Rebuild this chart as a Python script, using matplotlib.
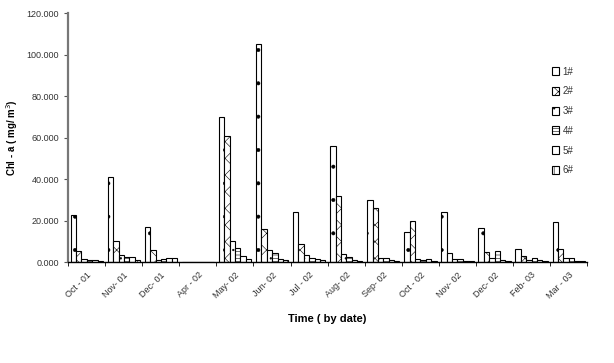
import numpy as np
import matplotlib
matplotlib.use('Agg')
import matplotlib.pyplot as plt

plt.rcParams['font.family'] = ['Liberation Sans', 'DejaVu Sans']
plt.rcParams['hatch.linewidth'] = 0.4

# sampling dates
months = ['Oct - 01', 'Nov- 01', 'Dec- 01', 'Apr - 02', 'May- 02', 'Jun- 02', 'Jul - 02',
          'Aug- 02', 'Sep- 02', 'Oct - 02', 'Nov- 02', 'Dec- 02', 'Feb- 03', 'Mar - 03']

# Chl-a per station (mg/m3)
st1 = [22.5, 41.0, 17.0, 0.0, 70.0, 105.0, 24.0, 56.0, 30.0, 14.5, 24.0, 16.5, 6.2, 19.5]
st2 = [5.5, 10.0, 6.0, 0.0, 61.0, 16.0, 8.5, 32.0, 26.0, 20.0, 4.5, 5.0, 3.0, 6.5]
st3 = [1.7, 3.3, 1.0, 0.0, 10.0, 6.0, 3.5, 4.0, 2.2, 1.5, 1.7, 2.2, 1.2, 2.2]
st4 = [1.2, 2.3, 1.5, 0.0, 7.0, 4.5, 1.8, 2.3, 1.8, 1.2, 1.5, 5.5, 2.2, 2.0]
st5 = [0.9, 2.3, 2.0, 0.0, 3.0, 1.5, 1.3, 0.8, 1.0, 1.3, 0.5, 1.2, 0.8, 0.5]
st6 = [0.7, 1.0, 2.2, 0.0, 1.5, 1.0, 0.8, 0.6, 0.3, 0.5, 0.3, 0.5, 0.5, 0.3]
stations = ['1#', '2#', '3#', '4#', '5#', '6#']
series = [st1, st2, st3, st4, st5, st6]
hatches = ['.', 'xx', '..', '-----', '', '||']

fig = plt.figure(figsize=(6.14, 3.63), dpi=100)
ax = fig.add_axes([0.111, 0.278, 0.845, 0.686])

x = np.arange(len(months))
w = 0.145
for i, (vals, lab) in enumerate(zip(series, stations)):
    ax.bar(x - 0.5 + 0.07 + w * i, vals, width=w, align='edge',
           facecolor='white', edgecolor='black', linewidth=0.8,
           hatch=hatches[i], label=lab)

ax.set_xlim(-0.5, len(months) - 0.5)
ax.set_ylim(0, 120)
ax.set_yticks(np.arange(0, 121, 20))
ax.set_yticklabels(['%.3f' % v for v in np.arange(0, 121, 20)], fontsize=6.5, color='#333333')
ax.set_xticks(x)
ax.set_xticklabels(months, rotation=45, ha='right', rotation_mode='anchor',
                   fontsize=6.5, color='#333333')
ax.tick_params(axis='x', which='major', length=0, pad=6)
ax.set_xticks(np.arange(-0.5, len(months)), minor=True)
ax.tick_params(axis='x', which='minor', length=3, direction='out')
ax.tick_params(axis='y', length=3, direction='out', color='#555555')

for s in ['top', 'right']:
    ax.spines[s].set_visible(False)
ax.spines['left'].set_color('#777777')
ax.spines['left'].set_linewidth(1.6)
ax.spines['bottom'].set_color('black')
ax.spines['bottom'].set_linewidth(1.0)

ax.set_ylabel('Chl - a ( mg/ m$^3$)', fontsize=7, fontweight='bold', labelpad=5)
ax.set_xlabel('Time ( by date)', fontsize=8, fontweight='bold', labelpad=10)

leg = ax.legend(loc='upper left', bbox_to_anchor=(0.915, 0.82), frameon=False,
                fontsize=7, handlelength=0.8, handleheight=0.9, handletextpad=0.3,
                labelspacing=1.0)
for t in leg.get_texts():
    t.set_color('#333333')

fig.savefig('out.png', dpi=100)
